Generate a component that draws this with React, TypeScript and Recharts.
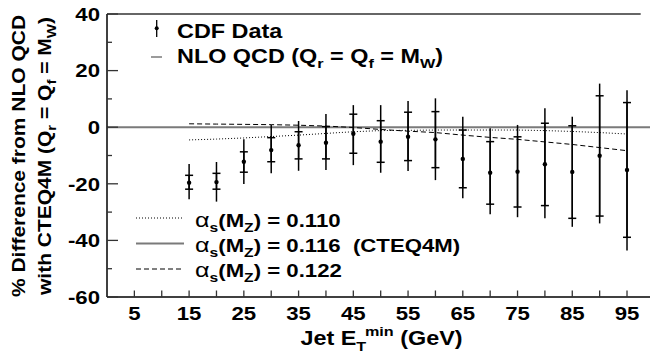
import React from 'react';
import { ComposedChart, XAxis, YAxis, Scatter, ErrorBar, Line, ReferenceLine, Legend } from 'recharts';

// ---- data ----
const energies = [15, 20, 25, 30, 35, 40, 45, 50, 55, 60, 65, 70, 75, 80, 85, 90, 95];
const cdfDiff = [-19.6, -19.4, -12.2, -8.1, -6.4, -5.5, -2.3, -5.1, -3.4, -4.3, -11.2, -16.1, -15.7, -13.1, -15.8, -10.1, -15.1];
const totalHigh = [-13.0, -12.3, -4.3, 0.8, 2.2, 4.7, 7.8, 7.8, 9.3, 10.2, 3.7, -0.4, 0.8, 6.7, 3.7, 15.4, 13.1];
const totalLow = [-25.5, -26.3, -20.1, -16.3, -15.4, -15.1, -13.4, -16.1, -15.5, -18.7, -25.1, -30.8, -31.8, -32.2, -35.2, -34.0, -43.6];
const innerHigh = [-17.0, -16.3, -8.7, -3.7, -1.6, 0.2, 4.6, 2.3, 5.3, 5.5, -1.0, -5.1, -3.4, 1.4, 0.5, 11.1, 8.7];
const innerLow = [-21.9, -21.9, -15.9, -12.2, -11.2, -11.2, -9.2, -12.4, -11.8, -14.3, -21.4, -27.2, -28.2, -27.7, -32.2, -31.4, -38.9];
const alpha110 = [-4.5, -4.2, -3.8, -3.3, -2.8, -2.2, -1.6, -1.2, -1.1, -1.0, -1.0, -1.0, -1.0, -1.2, -1.5, -1.9, -2.4];
const alpha122 = [1.2, 1.1, 1.0, 0.9, 0.7, 0.4, -0.1, -0.8, -1.4, -1.9, -2.8, -3.6, -4.3, -5.2, -6.1, -7.2, -8.3];

const yTicks = [-60, -50, -40, -30, -20, -10, 0, 10, 20, 30, 40];
const yTickLabels = [-60, -40, -20, 0, 20, 40];
const xTicks = [5, 10, 15, 20, 25, 30, 35, 40, 45, 50, 55, 60, 65, 70, 75, 80, 85, 90, 95];
const xTickLabels = [5, 15, 25, 35, 45, 55, 65, 75, 85, 95];

const xDomain = [0, 99.2];
const yDomain = [-60, 40];
const frameEnd = 97.5;

const table = energies.map((x, i) => ({
  x,
  y: cdfDiff[i],
  errTot: [cdfDiff[i] - totalLow[i], totalHigh[i] - cdfDiff[i]],
  errIn: [cdfDiff[i] - innerLow[i], innerHigh[i] - cdfDiff[i]],
  a110: alpha110[i],
  a122: alpha122[i],
}));

const FONT = '"Liberation Sans", Arial, Helvetica, sans-serif';
const SX = 1.2;
const GRAY = '#7a7a7a';

const T = ({ x, y, size, anchor = 'start', rotate = 0, children }: any) => (
  <g transform={`translate(${x},${y}) rotate(${rotate}) scale(${SX},1)`}>
    <text x={0} y={0} textAnchor={anchor} fontFamily={FONT} fontWeight="bold" fontSize={size} fill="#000" style={{ whiteSpace: 'pre' }}>
      {children}
    </text>
  </g>
);

// segments: [text, kind, extraProps?] ; kind: 'n' normal, 'sub', 'sup'
const rich = (segs: any[], small: number, subD = 5, supD = -9) => {
  let cur = 0;
  return segs.map((s: any, i: number) => {
    const [t, k, extra] = s;
    const target = k === 'sub' ? subD : k === 'sup' ? supD : 0;
    const dy = target - cur;
    cur = target;
    return (
      <tspan key={i} dy={dy !== 0 ? dy : undefined} fontSize={k === 'n' ? undefined : small} {...(extra || {})}>
        {t}
      </tspan>
    );
  });
};

const YTick = (props: any) => {
  const { x, y, payload } = props;
  const major = yTickLabels.includes(payload.value);
  return (
    <g>
      <line x1={x} x2={x + (major ? 11 : 5)} y1={y} y2={y} stroke="#333" strokeWidth={1.3} />
      {major && <T x={x - 7} y={y + 6.7} size={18.5} anchor="end">{String(payload.value)}</T>}
    </g>
  );
};

const XTick = (props: any) => {
  const { x, y, payload } = props;
  const major = xTickLabels.includes(payload.value);
  return (
    <g>
      <line x1={x} x2={x} y1={y} y2={y - 6.5} stroke="#333" strokeWidth={1.3} />
      {major && <T x={x} y={y + 23} size={18.5} anchor="middle">{String(payload.value)}</T>}
    </g>
  );
};

const YTitle = (props: any) => {
  const vb = props.viewBox || { x: 0, y: 14, width: 107, height: 283 };
  const cy = vb.y + vb.height / 2 + 0.5;
  const fs = 17.5;
  const ss = 12.5;
  return (
    <g>
      <T x={25} y={cy} size={fs} anchor="middle" rotate={-90}>% Difference from NLO QCD</T>
      <T x={51} y={cy} size={fs} anchor="middle" rotate={-90}>
        {rich([
          ['with CTEQ4M (Q', 'n'], ['r', 'sub'], [' = Q', 'n'], ['f', 'sub'], [' = M', 'n'], ['W', 'sub'], [')', 'n'],
        ], ss)}
      </T>
    </g>
  );
};

const XTitle = (props: any) => {
  const vb = props.viewBox || { x: 107, y: 297, width: 543, height: 63 };
  return (
    <T x={vb.x + vb.width / 2 + 3} y={vb.y + 48} size={19.5} anchor="middle">
      {rich([
        ['Jet E', 'n'], ['T', 'sub'], ['min', 'sup', { dx: -1 }], [' (GeV)', 'n'],
      ], 13.5, 6, -9)}
    </T>
  );
};

const legendTop = ['CDF Data', 'NLO QCD'];
const legendAlpha = [
  { value: '0.110', dash: '1 2', color: '#000', width: 1, extra: '' },
  { value: '0.116', dash: undefined, color: GRAY, width: 2, extra: '  (CTEQ4M)' },
  { value: '0.122', dash: '5 3', color: '#000', width: 1, extra: '' },
];

const LegendContent = () => {
  const ls = 19.5;
  const ss = 13.5;
  return (
    <svg width={650} height={360} style={{ display: 'block', overflow: 'visible' }}>
      <line x1={156.7} x2={156.7} y1={20} y2={37} stroke="#000" strokeWidth={1.3} />
      <circle cx={156.7} cy={28.3} r={2} fill="#000" />
      <T x={177} y={38.3} size={ls}>{legendTop[0]}</T>
      <line x1={151} x2={162} y1={57} y2={57} stroke={GRAY} strokeWidth={1.5} />
      <T x={177} y={63.3} size={ls}>
        {rich([
          [`${legendTop[1]} (Q`, 'n'], ['r', 'sub'], [' = Q', 'n'], ['f', 'sub'], [' = M', 'n'], ['W', 'sub'], [')', 'n'],
        ], ss)}
      </T>
      {legendAlpha.map((a, i) => {
        const ly = 218 + i * 25.5;
        const by = 226.7 + i * 25;
        return (
          <g key={a.value}>
            <line x1={136} x2={184} y1={ly} y2={ly} stroke={a.color} strokeWidth={a.width} strokeDasharray={a.dash} />
            <T x={195} y={by} size={18.5}>
              {rich([
                ['\u03B1', 'n', { fontWeight: 'normal', fontSize: 21 }], ['s', 'sub'], ['(M', 'n'], ['Z', 'sub'], [`) = ${a.value}${a.extra}`, 'n'],
              ], 13)}
            </T>
          </g>
        );
      })}
    </svg>
  );
};

const Dot = (props: any) => <circle cx={props.cx} cy={props.cy} r={2.2} fill="#000" />;

export default function App() {
  return (
    <div style={{ position: 'absolute', left: 0, top: 0, width: 650, height: 360, background: '#fff' }}>
      <ComposedChart width={650} height={360} data={table} margin={{ top: 14, right: 0, bottom: 0, left: 0 }}>
        <XAxis
          dataKey="x"
          type="number"
          domain={xDomain}
          allowDataOverflow
          ticks={xTicks}
          interval={0}
          tickSize={0}
          tickMargin={0}
          tickLine={false}
          tick={XTick}
          height={63}
          axisLine={{ stroke: '#000', strokeWidth: 1.5 }}
          label={XTitle}
        />
        <YAxis
          type="number"
          domain={yDomain}
          allowDataOverflow
          ticks={yTicks}
          interval={0}
          tickSize={0}
          tickMargin={0}
          tickLine={false}
          tick={YTick}
          width={107}
          axisLine={{ stroke: '#000', strokeWidth: 1.5 }}
          label={YTitle}
        />
        <ReferenceLine segment={[{ x: 0, y: 40 }, { x: frameEnd, y: 40 }]} stroke="#333" strokeWidth={1.5} />
        <ReferenceLine y={0} stroke={GRAY} strokeWidth={2} />
        <Line dataKey="a110" stroke="#000" strokeWidth={1} strokeDasharray="1 2" dot={false} isAnimationActive={false} type="linear" />
        <Line dataKey="a122" stroke="#000" strokeWidth={1} strokeDasharray="5 3" dot={false} isAnimationActive={false} type="linear" />
        <Scatter dataKey="y" shape={Dot} isAnimationActive={false}>
          <ErrorBar dataKey="errTot" direction="y" width={0} stroke="#000" strokeWidth={1.5} />
          <ErrorBar dataKey="errIn" direction="y" width={4} stroke="#000" strokeWidth={1.5} />
        </Scatter>
        <Legend
          layout="vertical"
          align="center"
          verticalAlign="middle"
          content={LegendContent}
          wrapperStyle={{ position: 'absolute', left: 0, top: 0, width: 650, height: 360, pointerEvents: 'none' }}
        />
      </ComposedChart>
    </div>
  );
}
